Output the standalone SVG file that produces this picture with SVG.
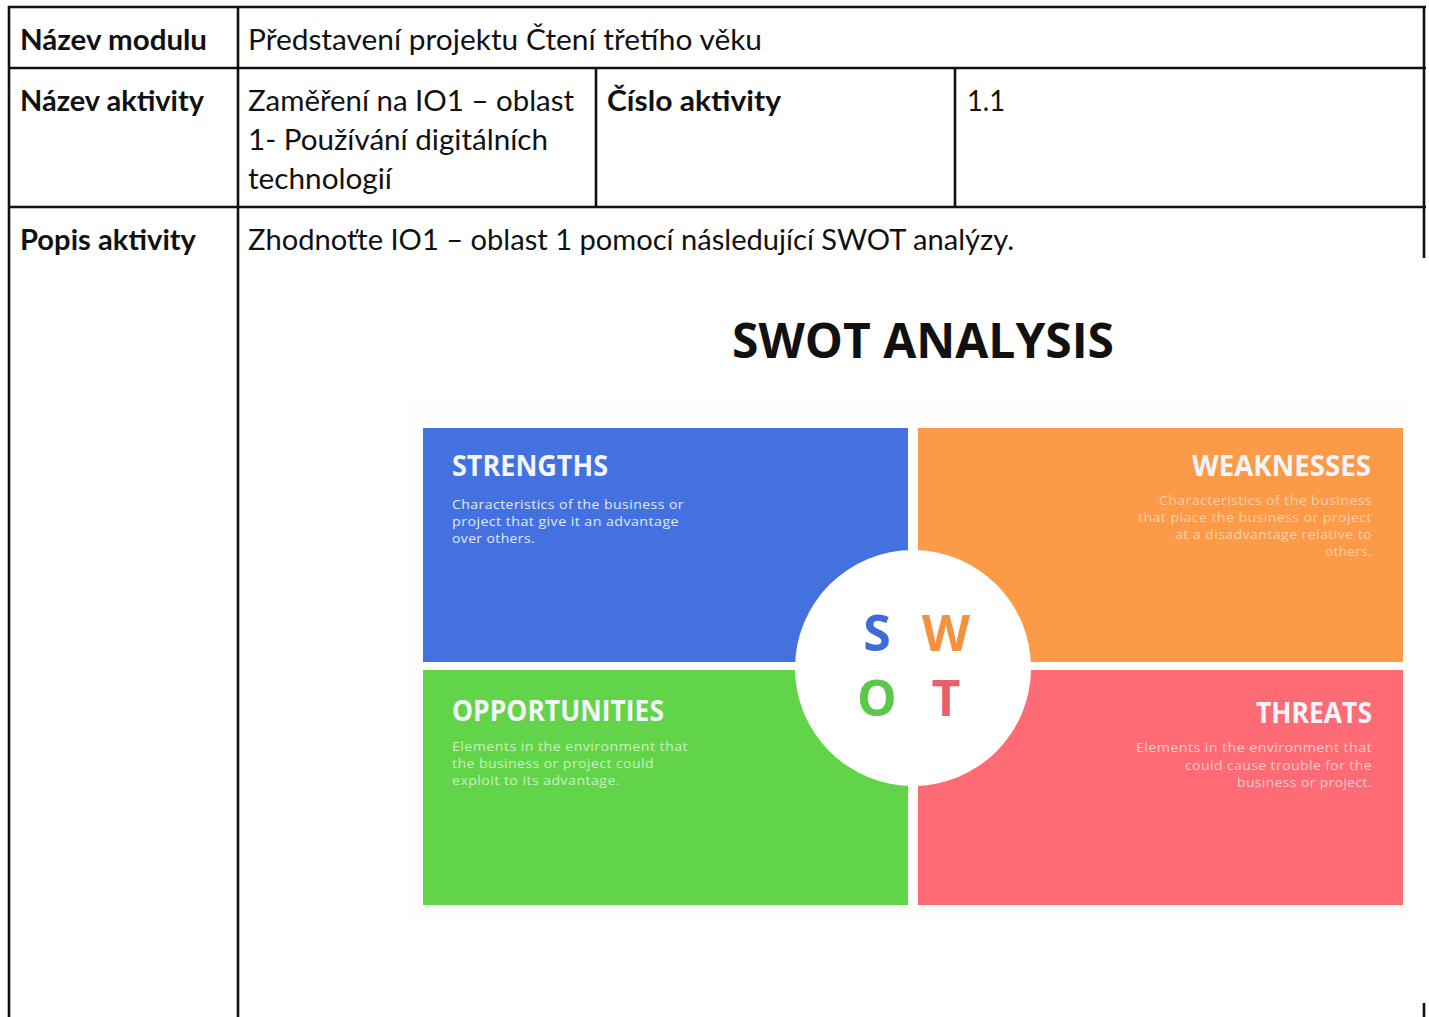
<svg xmlns="http://www.w3.org/2000/svg" width="1429" height="1017" viewBox="0 0 1429 1017">
<style>
.t{font-family:Lato,"Open Sans","Liberation Sans",sans-serif;font-size:28px;fill:#111}
.b{font-weight:bold}
.ln{stroke:#111;stroke-width:2.6;fill:none}
.h{font-family:"Open Sans",Lato,"Liberation Sans",sans-serif;font-weight:bold;font-size:29px;fill:#f4f6fb}
.d{font-family:"Open Sans",Lato,"Liberation Sans",sans-serif;font-size:13.5px;letter-spacing:0.4px}
.L{font-family:"Open Sans",Lato,"Liberation Sans",sans-serif;font-weight:bold;font-size:50px;text-anchor:middle}
</style>
<rect width="1429" height="1017" fill="#ffffff"/>
<g id="table-lines">
<line class="ln" x1="8" y1="7" x2="1426" y2="7"/>
<line class="ln" x1="8" y1="68" x2="1426" y2="68"/>
<line class="ln" x1="8" y1="207" x2="1426" y2="207"/>
<line class="ln" x1="9" y1="6" x2="9" y2="1017"/>
<line class="ln" x1="238" y1="6" x2="238" y2="1017"/>
<line class="ln" x1="596" y1="68" x2="596" y2="207"/>
<line class="ln" x1="955" y1="68" x2="955" y2="207"/>
<line class="ln" x1="1424" y1="6" x2="1424" y2="258"/>
<line class="ln" x1="1424" y1="1003" x2="1424" y2="1017"/>
</g>
<g id="cell-nazev-modulu"><text class="t b" x="20" y="50" textLength="187" lengthAdjust="spacingAndGlyphs">Název modulu</text></g>
<g id="cell-modul-value"><text class="t" x="248" y="50" textLength="514" lengthAdjust="spacingAndGlyphs">Představení projektu Čtení třetího věku</text></g>
<g id="cell-nazev-aktivity"><text class="t b" x="20" y="111" textLength="184" lengthAdjust="spacingAndGlyphs">Název aktivity</text></g>
<g id="cell-aktivita-value">
<text class="t" x="248" y="111" textLength="326" lengthAdjust="spacingAndGlyphs">Zaměření na IO1 – oblast</text>
<text class="t" x="248" y="150" textLength="300" lengthAdjust="spacingAndGlyphs">1- Používání digitálních</text>
<text class="t" x="248" y="189" textLength="144" lengthAdjust="spacingAndGlyphs">technologií</text>
</g>
<g id="cell-cislo-aktivity"><text class="t b" x="607" y="111" textLength="174" lengthAdjust="spacingAndGlyphs">Číslo aktivity</text></g>
<g id="cell-cislo-value"><text class="t" x="967" y="111" textLength="38" lengthAdjust="spacingAndGlyphs">1.1</text></g>
<g id="cell-popis-aktivity"><text class="t b" x="20" y="250" textLength="176" lengthAdjust="spacingAndGlyphs">Popis aktivity</text></g>
<g id="cell-popis-value"><text class="t" x="248" y="250" textLength="766" lengthAdjust="spacingAndGlyphs">Zhodnoťte IO1 – oblast 1 pomocí následující SWOT analýzy.</text></g>

<g id="swot">
<rect x="410" y="405" width="1000" height="512" fill="#fdfdfb"/>
<text x="923" y="358" font-family="'Open Sans',Lato,'Liberation Sans',sans-serif" font-weight="bold" font-size="48" fill="#111" text-anchor="middle" textLength="382" lengthAdjust="spacingAndGlyphs">SWOT ANALYSIS</text>
<g id="strengths">
<rect x="423" y="428" width="485" height="234" fill="#4371e0"/>
<text class="h" x="452" y="476" textLength="156" lengthAdjust="spacingAndGlyphs">STRENGTHS</text>
<g class="d" fill="#e2e9fb">
<text x="452" y="509" textLength="232" lengthAdjust="spacingAndGlyphs">Characteristics of the business or</text>
<text x="452" y="526" textLength="227" lengthAdjust="spacingAndGlyphs">project that give it an advantage</text>
<text x="452" y="543" textLength="83" lengthAdjust="spacingAndGlyphs">over others.</text>
</g>
</g>
<g id="weaknesses">
<rect x="918" y="428" width="485" height="234" fill="#fd9a48"/>
<text class="h" x="1371" y="476" text-anchor="end" textLength="179" lengthAdjust="spacingAndGlyphs">WEAKNESSES</text>
<g class="d" fill="#fdd0a8" text-anchor="end">
<text x="1372" y="505" textLength="213" lengthAdjust="spacingAndGlyphs">Characteristics of the business</text>
<text x="1372" y="522" textLength="234" lengthAdjust="spacingAndGlyphs">that place the business or project</text>
<text x="1372" y="539" textLength="197" lengthAdjust="spacingAndGlyphs">at a disadvantage relative to</text>
<text x="1372" y="556" textLength="47" lengthAdjust="spacingAndGlyphs">others.</text>
</g>
</g>
<g id="opportunities">
<rect x="423" y="670" width="485" height="235" fill="#62d44a"/>
<text class="h" x="452" y="721" textLength="212" lengthAdjust="spacingAndGlyphs">OPPORTUNITIES</text>
<g class="d" fill="#c9f0bf">
<text x="452" y="751" textLength="236" lengthAdjust="spacingAndGlyphs">Elements in the environment that</text>
<text x="452" y="768" textLength="202" lengthAdjust="spacingAndGlyphs">the business or project could</text>
<text x="452" y="785" textLength="168" lengthAdjust="spacingAndGlyphs">exploit to its advantage.</text>
</g>
</g>
<g id="threats">
<rect x="918" y="670" width="485" height="235" fill="#fe6b74"/>
<text class="h" x="1372" y="723" text-anchor="end" textLength="116" lengthAdjust="spacingAndGlyphs">THREATS</text>
<g class="d" fill="#fdc9cc" text-anchor="end">
<text x="1372" y="752" textLength="236" lengthAdjust="spacingAndGlyphs">Elements in the environment that</text>
<text x="1372" y="770" textLength="187" lengthAdjust="spacingAndGlyphs">could cause trouble for the</text>
<text x="1372" y="787" textLength="135" lengthAdjust="spacingAndGlyphs">business or project.</text>
</g>
</g>
<g id="swot-circle">
<circle cx="913" cy="668" r="118" fill="#ffffff"/>
<text class="L" x="877" y="651" fill="#3f6bd6">S</text>
<text class="L" x="946" y="651" fill="#f5923f">W</text>
<text class="L" x="877" y="716" fill="#5cc84a">O</text>
<text class="L" x="946" y="716" fill="#ea5f68">T</text>
</g>
</g>
</svg>
